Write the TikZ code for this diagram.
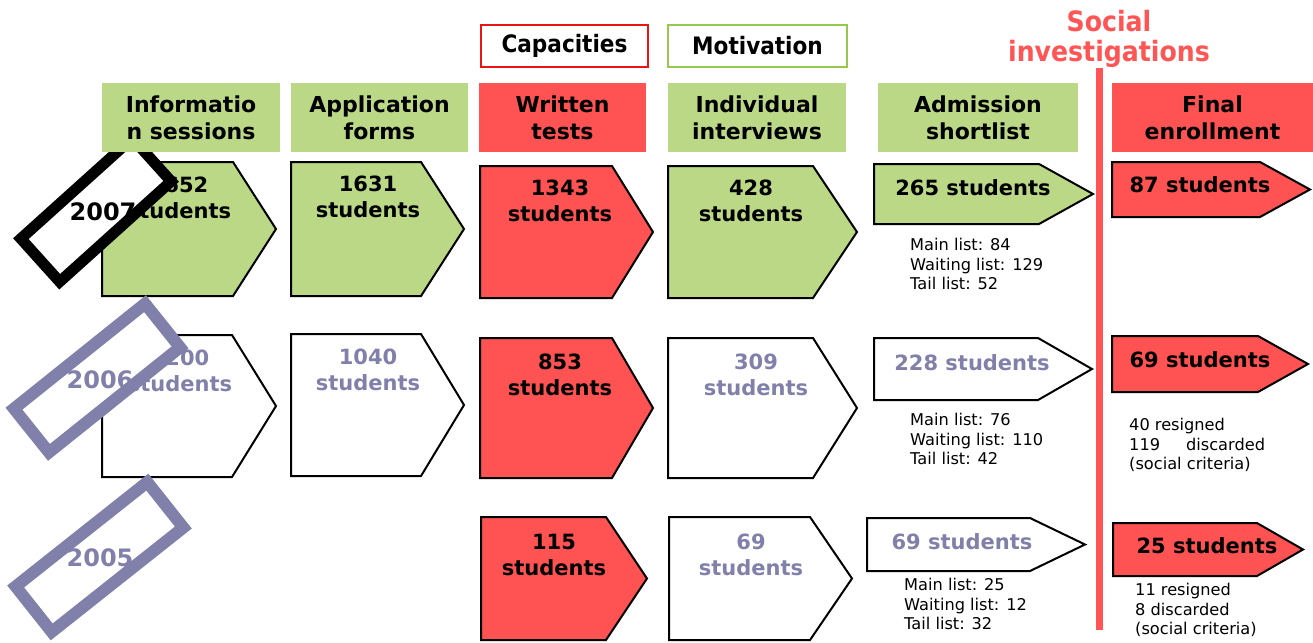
\documentclass[tikz,border=0pt]{standalone}
\usepackage{fontspec}
\setmainfont{DejaVu Sans}
\newfontfamily\condb{DejaVu Sans Condensed}[BoldFont={DejaVu Sans Condensed Bold}]
\definecolor{gfill}{RGB}{187,216,134}
\definecolor{rfill}{RGB}{255,82,82}
\definecolor{ptxt}{RGB}{128,128,170}
\definecolor{capred}{RGB}{235,20,20}
\definecolor{motgreen}{RGB}{150,200,80}
\definecolor{socred}{RGB}{255,85,85}
\tikzset{
  pentline/.style={draw=black, line width=2pt, line join=miter},
  hdr/.style={inner sep=0pt, align=center, font=\fontsize{22}{27}\selectfont\bfseries},
  big/.style={inner sep=0pt, align=center, font=\fontsize{21}{26}\selectfont\bfseries},
  small/.style={inner sep=0pt, align=left, anchor=north west, font=\fontsize{16.2}{19.5}\selectfont},
  yearbox/.style={draw, fill=white, inner sep=0pt, line join=miter},
  yeartxt/.style={inner sep=0pt, font=\fontsize{24}{28}\selectfont\bfseries},
  crit/.style={inner sep=0pt, font=\fontsize{24}{28}\condb\bfseries, line width=1.6pt, minimum height=42pt},
}
\newcommand\pent[6]{\draw[pentline, fill=#6] (#1,#2) -- (#3,#2) -- (#4,{(#2+#5)/2}) -- (#3,#5) -- (#1,#5) -- cycle;}
\begin{document}
\begin{tikzpicture}[x=1pt,y=-1pt]
\useasboundingbox (0,0) rectangle (1313,642);
% ---- pentagons row 2007
\pent{102}{162}{233}{276}{296}{gfill}
\pent{291}{162}{421}{464}{296}{gfill}
\pent{480}{166}{612}{653}{298}{rfill}
\pent{668}{166}{813}{857}{298}{gfill}
\pent{874}{164}{1039}{1093}{224}{gfill}
\pent{1112}{162}{1260}{1310}{217}{rfill}
% ---- row 2006
\pent{102}{335}{232}{276}{477}{white}
\pent{291}{334}{421}{464}{476}{white}
\pent{480}{338}{612}{653}{478}{rfill}
\pent{668}{338}{813}{857}{478}{white}
\pent{874}{338}{1038}{1092}{400}{white}
\pent{1112}{336}{1258}{1308}{392}{rfill}
% ---- row 2005
\pent{481}{517}{606}{647}{640}{rfill}
\pent{669}{517}{810}{852}{640}{white}
\pent{867}{518}{1030}{1085}{571}{white}
\pent{1113}{523}{1257}{1303}{576}{rfill}
% ---- texts in pentagons
\node[big] (t07a) at (179,198) {1652\\students};
\node[big] (t07b) at (368,197) {1631\\students};
\node[big] (t07c) at (560,201) {1343\\students};
\node[big] (t07d) at (751,201) {428\\students};
\node[big] (t07e) at (973,188) {265 students};
\node[big] (t07f) at (1200,185) {87 students};
\node[big, text=ptxt] (t06a) at (180,371) {1200\\students};
\node[big, text=ptxt] (t06b) at (368,370) {1040\\students};
\node[big] (t06c) at (560,375) {853\\students};
\node[big, text=ptxt] (t06d) at (756,375) {309\\students};
\node[big, text=ptxt] (t06e) at (972,363) {228 students};
\node[big] (t06f) at (1200,360) {69 students};
\node[big] (t05c) at (554,555) {115\\students};
\node[big, text=ptxt] (t05d) at (751,555) {69\\students};
\node[big, text=ptxt] (t05e) at (962,542) {69 students};
\node[big] (t05f) at (1207,546) {25 students};
% ---- small notes
\node[small] (n07) at (910,238) {Main list: 84\\Waiting list: 129\\Tail list: 52};
\node[small] (n06) at (910,413) {Main list: 76\\Waiting list: 110\\Tail list: 42};
\node[small] (n05) at (904,578) {Main list: 25\\Waiting list: 12\\Tail list: 32};
\node[small] (f06) at (1129,418) {40 resigned\\119\hspace{1.6em}discarded\\(social criteria)};
\node[small] (f05) at (1135,583) {11 resigned\\8 discarded\\(social criteria)};
% ---- year boxes
\node[yearbox, line width=11pt, draw=black, rotate=42, minimum width=150pt, minimum height=58pt] (y07box) at (96,210) {};
\node[yeartxt] (y07) at (103,212) {2007};
\node[yearbox, line width=12pt, draw=ptxt, rotate=38.7, minimum width=168pt, minimum height=56pt] (y06box) at (97,378) {};
\node[yeartxt, text=ptxt] (y06) at (100,380) {2006};
\node[yearbox, line width=12pt, draw=ptxt, rotate=38.4, minimum width=168pt, minimum height=58pt] (y05box) at (99.5,557) {};
\node[yeartxt, text=ptxt] (y05) at (100,558) {2005};
% ---- headers
\node[hdr, fill=gfill, minimum width=178pt, minimum height=69pt] (h1) at (191,117.5) {Informatio\\n sessions};
\node[hdr, fill=gfill, minimum width=177pt, minimum height=69pt] (h2) at (379.5,117.5) {Application\\forms};
\node[hdr, fill=rfill, minimum width=167pt, minimum height=69pt] (h3) at (562.5,117.5) {Written\\tests};
\node[hdr, fill=gfill, minimum width=178pt, minimum height=69pt] (h4) at (757,117.5) {Individual\\interviews};
\node[hdr, fill=gfill, minimum width=200pt, minimum height=69pt] (h5) at (978,117.5) {Admission\\shortlist};
\node[hdr, fill=rfill, minimum width=201pt, minimum height=69pt] (h6) at (1212.5,117.5) {Final\\enrollment};
% ---- criteria
\node[crit, draw=capred, minimum width=167pt] (cap) at (564.5,46) {Capacities};
\node[crit, draw=motgreen, minimum width=179pt] (mot) at (757.5,46) {Motivation};
\node[inner sep=0pt, align=center, text=socred, font=\fontsize{28}{30}\condb\bfseries] (soc) at (1109,39) {Social\\investigations};
\coordinate (lt) at (1099.5,68);
\coordinate (lb) at (1099.5,630);
\draw[socred, line width=7pt] (lt) -- (lb);
\end{tikzpicture}
\end{document}
